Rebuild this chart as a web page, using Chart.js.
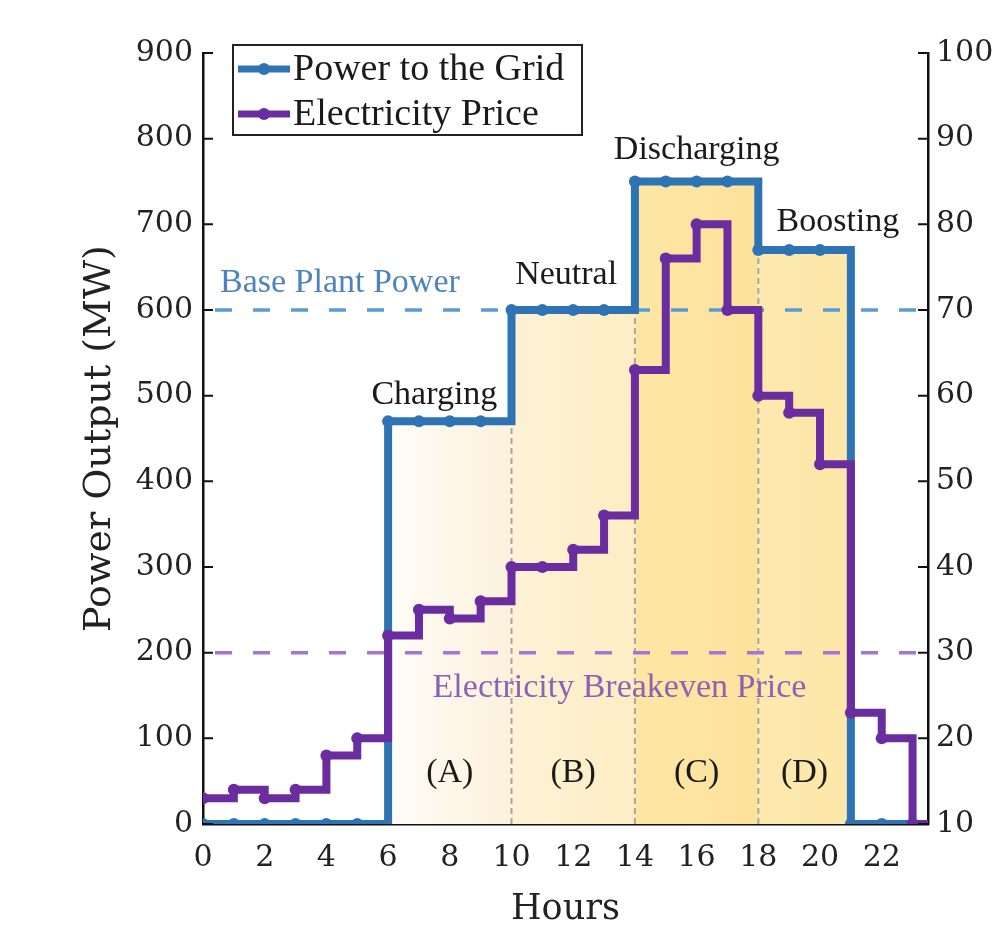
<!DOCTYPE html>
<html>
<head>
<meta charset="utf-8">
<script src="https://cdn.jsdelivr.net/npm/chart.js@4.4.0/dist/chart.umd.min.js"></script>
<style>
    html, body { margin: 0; padding: 0; background: #fff; }
    #wrap { width: 1008px; height: 934px; }
</style>
</head>
<body>
<div id="wrap"><canvas id="gridChart" width="1008" height="934"></canvas></div>
<script>
// Data per jam
const hours = [0, 1, 2, 3, 4, 5, 6, 7, 8, 9, 10, 11, 12, 13, 14, 15, 16, 17, 18, 19, 20, 21, 22, 23];
const powerToGrid = [0, 0, 0, 0, 0, 0, 470, 470, 470, 470, 600, 600, 600, 600, 750, 750, 750, 750, 670, 670, 670, 0, 0, 0];
const electricityPrice = [13, 14, 13, 14, 18, 20, 32, 35, 34, 36, 40, 40, 42, 46, 63, 76, 80, 70, 60, 58, 52, 23, 20, 10];
const xTicks = [0, 2, 4, 6, 8, 10, 12, 14, 16, 18, 20, 22];
const basePlantPower = 600;
const breakevenPrice = 30;
const phaseBounds = [6, 10, 14, 18, 21];
const phaseNames = ["(A)", "(B)", "(C)", "(D)"];
const phaseTitles = ["Charging", "Neutral", "Discharging", "Boosting"];

const BLUE = "#2e74b5";
const PURPLE = "#6a2c9f";
const TICK_FONT = { family: "DejaVu Serif", size: 30 };

// Step series: setiap nilai berlaku satu jam penuh
function stepPoints(values) {
    const pts = hours.map((h, i) => ({ x: h, y: values[i] }));
    pts.push({ x: hours[hours.length - 1] + 1, y: values[values.length - 1] });
    return pts;
}

const phaseColors = [
    ["#fffdf8", "#fcf1db"],
    ["#fdf2d6", "#fdedc3"],
    ["#fde6a4", "#fde29b"],
    ["#fde9ae", "#fde7a8"],
];

const datasets = [
    {
        label: "Electricity Price",
        data: stepPoints(electricityPrice),
        yAxisID: "y2",
        borderColor: PURPLE,
        backgroundColor: PURPLE,
        borderWidth: 8,
        stepped: true,
        pointRadius: (c) => (c.dataIndex === hours.length ? 0 : 6),
        pointBorderWidth: 0,
        order: 0,
    },
    {
        label: "Power to the Grid",
        data: stepPoints(powerToGrid),
        yAxisID: "y",
        borderColor: BLUE,
        backgroundColor: BLUE,
        borderWidth: 8,
        stepped: true,
        pointRadius: (c) => (c.dataIndex === hours.length ? 0 : 6),
        pointBorderWidth: 0,
        order: 1,
    },
    {
        label: "Base Plant Power",
        data: [{ x: 0, y: basePlantPower }, { x: 24, y: basePlantPower }],
        yAxisID: "y",
        borderColor: "#5b9bd5",
        borderWidth: 3.5,
        borderDash: [17, 21],
        borderDashOffset: -12,
        pointRadius: 0,
        order: 2,
    },
    {
        label: "Electricity Breakeven Price",
        data: [{ x: 0, y: breakevenPrice }, { x: 24, y: breakevenPrice }],
        yAxisID: "y2",
        borderColor: "#a673d6",
        borderWidth: 3.5,
        borderDash: [17, 21],
        borderDashOffset: -12,
        pointRadius: 0,
        order: 2,
    },
];

// Garis batas fase (putus-putus abu-abu)
phaseBounds.slice(1, 4).forEach((b) => {
    datasets.push({
        label: "bound" + b,
        data: [{ x: b, y: 0 }, { x: b, y: Math.min(powerToGrid[b - 1], powerToGrid[b]) }],
        yAxisID: "y",
        borderColor: "#aaa69f",
        borderWidth: 2,
        borderDash: [6, 4],
        pointRadius: 0,
        order: 3,
    });
});

// Area fase A-D
phaseNames.forEach((name, i) => {
    const start = phaseBounds[i];
    const end = phaseBounds[i + 1];
    datasets.push({
        label: "phase" + name,
        data: [{ x: start, y: powerToGrid[start] }, { x: end, y: powerToGrid[start] }],
        yAxisID: "y",
        borderWidth: 0,
        borderColor: "rgba(0,0,0,0)",
        pointRadius: 0,
        fill: "origin",
        backgroundColor: (c) => {
            const chart = c.chart;
            if (!chart.chartArea) return phaseColors[i][1];
            const xs = chart.scales.x;
            const g = chart.ctx.createLinearGradient(xs.getPixelForValue(start), 0, xs.getPixelForValue(end), 0);
            g.addColorStop(0, phaseColors[i][0]);
            g.addColorStop(1, phaseColors[i][1]);
            return g;
        },
        order: 4,
    });
});

// Teks keterangan (koordinat data sumbu kiri)
const notes = [
    { text: "Base Plant Power", x: 0.55, y: 632, color: "#4d84bf", align: "left" },
    { text: "Electricity Breakeven Price", x: 13.5, y: 159, color: "#8c62b6", align: "center" },
    { text: phaseTitles[0], x: 7.5, y: 501, color: "#1a1a1a", align: "center" },
    { text: phaseTitles[1], x: 11.77, y: 641, color: "#1a1a1a", align: "center" },
    { text: phaseTitles[2], x: 16.0, y: 787, color: "#1a1a1a", align: "center" },
    { text: phaseTitles[3], x: 20.58, y: 703, color: "#1a1a1a", align: "center" },
];

const overlayPlugin = {
    id: "overlay",
    afterDatasetsDraw(chart) {
        const { ctx, scales } = chart;
        const { x, y } = scales;
        ctx.save();
        ctx.textBaseline = "middle";
        ctx.font = "34px 'Liberation Serif'";
        notes.forEach((n) => {
            ctx.fillStyle = n.color;
            ctx.textAlign = n.align;
            ctx.fillText(n.text, x.getPixelForValue(n.x), y.getPixelForValue(n.y));
        });
        ctx.fillStyle = "#1a1a1a";
        ctx.textAlign = "center";
        phaseNames.forEach((name, i) => {
            const mid = (phaseBounds[i] + phaseBounds[i + 1]) / 2;
            ctx.fillText(name, x.getPixelForValue(mid), y.getPixelForValue(60));
        });
        ctx.restore();
    },
    afterDraw(chart) {
        const { ctx, chartArea, scales } = chart;
        const { y, y2 } = scales;
        ctx.save();
        // Tick ke arah dalam
        ctx.strokeStyle = "#111";
        ctx.lineWidth = 2;
        ctx.beginPath();
        y.ticks.forEach((t) => {
            const py = y.getPixelForValue(t.value);
            ctx.moveTo(chartArea.left, py);
            ctx.lineTo(chartArea.left + 10, py);
        });
        y2.ticks.forEach((t) => {
            const py = y2.getPixelForValue(t.value);
            ctx.moveTo(chartArea.right, py);
            ctx.lineTo(chartArea.right - 10, py);
        });
        ctx.stroke();

        // Legend dengan kotak
        const items = [datasets[1], datasets[0]];
        const bx = 233, by = 45, bw = 349, bh = 90;
        ctx.fillStyle = "#fff";
        ctx.fillRect(bx, by, bw, bh);
        ctx.strokeStyle = "#222";
        ctx.lineWidth = 2;
        ctx.strokeRect(bx, by, bw, bh);
        ctx.font = "38px 'Liberation Serif'";
        ctx.textBaseline = "middle";
        ctx.textAlign = "left";
        items.forEach((ds, i) => {
            const cy = by + 24 + i * 45;
            ctx.strokeStyle = ds.borderColor;
            ctx.lineWidth = 7;
            ctx.beginPath();
            ctx.moveTo(bx + 5, cy);
            ctx.lineTo(bx + 57, cy);
            ctx.stroke();
            ctx.fillStyle = ds.borderColor;
            ctx.beginPath();
            ctx.arc(bx + 31, cy, 6, 0, Math.PI * 2);
            ctx.fill();
            ctx.fillStyle = "#1a1a1a";
            ctx.fillText(ds.label, bx + 60, cy + 1);
        });
        ctx.restore();
    },
};

new Chart(document.getElementById("gridChart"), {
    type: "line",
    data: { datasets: datasets },
    plugins: [overlayPlugin],
    options: {
        responsive: false,
        animation: false,
        layout: { padding: { top: 53, left: 0, right: 0, bottom: 0 } },
        plugins: {
            legend: { display: false },
            tooltip: { enabled: false },
        },
        scales: {
            x: {
                type: "linear",
                min: 0,
                max: 23.5,
                afterFit: (s) => { s.height = 110; },
                afterBuildTicks: (s) => { s.ticks = xTicks.map((v) => ({ value: v })); },
                ticks: { font: TICK_FONT, color: "#222", padding: 16, maxRotation: 0 },
                grid: { display: false, drawTicks: false },
                border: { display: true, color: "#111", width: 2.5 },
                title: {
                    display: true,
                    text: "Hours",
                    color: "#222",
                    font: { family: "DejaVu Serif", size: 35, lineHeight: 1.2 },
                    padding: { top: 0, bottom: 3 },
                },
            },
            y: {
                position: "left",
                min: 0,
                max: 900,
                afterFit: (s) => { s.width = 203; },
                ticks: { stepSize: 100, font: TICK_FONT, color: "#222", padding: 10 },
                grid: { display: false, drawTicks: false },
                border: { display: true, color: "#111", width: 2.5 },
                title: {
                    display: true,
                    text: "Power Output (MW)",
                    color: "#222",
                    font: { family: "DejaVu Serif", size: 38, lineHeight: 1.2 },
                    padding: { top: 77, bottom: 0 },
                },
            },
            y2: {
                position: "right",
                min: 10,
                max: 100,
                afterFit: (s) => { s.width = 80; },
                ticks: { stepSize: 10, font: TICK_FONT, color: "#222", padding: 8 },
                grid: { display: false, drawTicks: false },
                border: { display: true, color: "#111", width: 2.5 },
            },
        },
    },
});
</script>
</body>
</html>
